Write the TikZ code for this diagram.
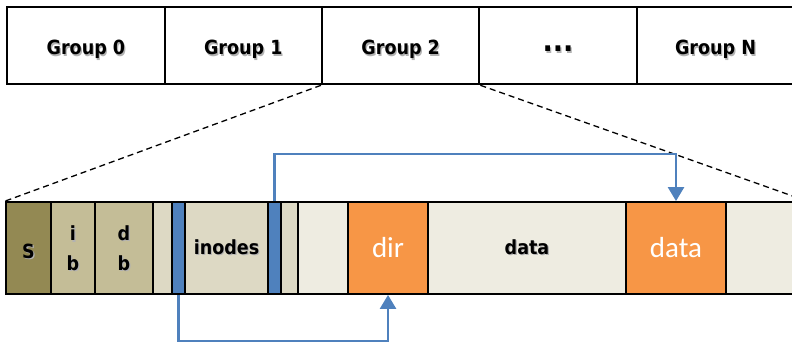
\documentclass[tikz,border=0pt]{standalone}
\usepackage{fontspec}
\setmainfont{DejaVu Sans}
\newfontfamily\grpfont[FakeStretch=0.9]{DejaVu Sans}
\newfontfamily\calib{Carlito}
\usetikzlibrary{arrows.meta}
\definecolor{olive}{HTML}{938953}
\definecolor{tan}{HTML}{C4BD97}
\definecolor{beige}{HTML}{DDD9C4}
\definecolor{pale}{HTML}{EEECE1}
\definecolor{bluearr}{HTML}{4F81BD}
\definecolor{orng}{HTML}{F79646}
\newcommand{\shtx}[1]{\rlap{\kern1.2pt\raisebox{-1.2pt}{\textcolor{black!30}{#1}}}#1}
\tikzset{
  grp/.style={draw=black, line width=2pt, minimum height=77pt, minimum width=157.4pt, inner sep=0pt, text height=18pt, text depth=0pt, font=\grpfont\bfseries\fontsize{19.5}{22}\selectfont},
  seg/.style={draw=black, line width=1.8pt, minimum height=92pt, inner sep=0pt, font=\grpfont\bfseries\fontsize{19.5}{24.5}\selectfont},
  stacked/.style={seg, text height=44pt, text depth=0pt},
  orange/.style={seg, fill=orng, text=white, font=\calib\fontsize{29}{32}\selectfont},
  zoomline/.style={line width=1.3pt, dash pattern=on 6pt off 4pt},
  ptr/.style={draw=bluearr, line width=2.5pt, -{Triangle[width=16pt,length=14pt]}}
}
\begin{document}
\begin{tikzpicture}[x=1pt,y=-1pt]
\useasboundingbox (0,0) rectangle (792,345);
\clip (0,0) rectangle (792,345);
% top groups
\node[grp] (g0) at (85.9,45.8) {\shtx{Group 0}};
\node[grp] (g1) at (243.3,45.8) {\shtx{Group 1}};
\node[grp] (g2) at (400.7,45.8) {\shtx{Group 2}};
\node[grp] (g3) at (558.1,45.8) {\raisebox{3pt}{\fontsize{30}{32}\selectfont\shtx{...}}};
\node[grp] (gn) at (715.5,45.8) {\shtx{Group N}};
% bottom bar segments
\node[seg, fill=olive, minimum width=45pt, text height=20pt, text depth=0pt] (s) at (28.5,248) {\shtx{S}};
\node[stacked, fill=tan, minimum width=44pt] (ib) at (73,248) {\shortstack{\shtx{i}\\[10pt]\shtx{b}}};
\node[stacked, fill=tan, minimum width=58pt] (db) at (124,248) {\shortstack{\shtx{d}\\[10pt]\shtx{b}}};
\node[seg, fill=beige, minimum width=19pt] (l1) at (162.5,248) {};
\node[seg, fill=bluearr, minimum width=13pt] (b1) at (178.5,248) {};
\node[seg, fill=beige, minimum width=83pt] (ino) at (226.5,248) {\shtx{inodes}};
\node[seg, fill=bluearr, minimum width=13pt] (b2) at (274.5,248) {};
\node[seg, fill=beige, minimum width=17pt] (l2) at (289.5,248) {};
\node[seg, fill=pale, minimum width=50pt] (e1) at (323,248) {};
\node[orange, minimum width=80pt] (dir) at (388,248) {dir};
\node[seg, fill=pale, minimum width=198pt] (dat) at (527,248) {\shtx{data}};
\node[orange, minimum width=100pt] (dat2) at (676,248) {data};
\node[seg, fill=pale, minimum width=80pt] (e2) at (766,248) {};
% zoom lines
\draw[zoomline] (g2.south west) -- (s.north west);
\draw[zoomline] (g2.south east) -- (e2.north east);
% pointers
\coordinate (top) at (676,154);
\coordinate (bot) at (388,341);
\draw[ptr] (b2.north) |- (top) -- (dat2.north);
\draw[ptr] (b1.south) |- (bot) -- (dir.south);
\end{tikzpicture}
\end{document}
